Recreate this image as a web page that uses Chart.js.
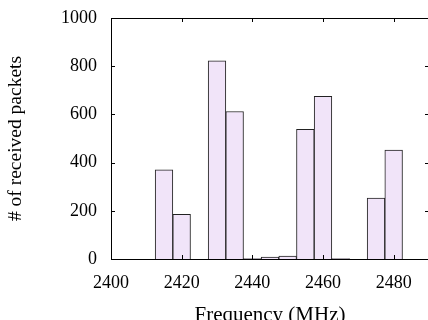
<!DOCTYPE html>
<html>
<head>
<meta charset="utf-8">
<script src="https://cdn.jsdelivr.net/npm/chart.js@4"></script>
<style>
  html, body { margin: 0; padding: 0; background: #fff; overflow: hidden; }
  #wrap { width: 432px; height: 328px; }
</style>
</head>
<body>
<div id="wrap"><canvas id="packetsChart"></canvas></div>
<script>
// Channel centre frequencies (MHz) and packets received on each
const frequencies = [2415, 2420, 2430, 2435, 2440, 2445, 2450, 2455, 2460, 2465, 2475, 2480];
const packets     = [370,  185,  822,  612,  2,    8,    12,   538,  675,  2,    253,  452];
const xTicks = [2400, 2420, 2440, 2460, 2480];
const yTicks = [0, 200, 400, 600, 800, 1000];

const fontFamily = "'Liberation Serif', 'DejaVu Serif', serif";

// Frame around the plot with inward tick marks on all four sides
const frameTicks = {
    id: 'frameTicks',
    afterDraw(chart) {
        const ctx = chart.ctx;
        const a = chart.chartArea;
        const x = chart.scales.x, y = chart.scales.y;
        const len = 4;
        ctx.save();
        ctx.strokeStyle = '#000';
        ctx.lineWidth = 1;
        ctx.strokeRect(a.left + 0.5, a.top + 0.5, a.right - a.left - 1, a.bottom - a.top);
        ctx.beginPath();
        xTicks.forEach(v => {
            const px = Math.round(x.getPixelForValue(v)) + 0.5;
            ctx.moveTo(px, a.bottom); ctx.lineTo(px, a.bottom - len);
            ctx.moveTo(px, a.top); ctx.lineTo(px, a.top + len);
        });
        yTicks.forEach(v => {
            const py = Math.round(y.getPixelForValue(v)) + 0.5;
            ctx.moveTo(a.left, py); ctx.lineTo(a.left + len, py);
            ctx.moveTo(a.right, py); ctx.lineTo(a.right - len, py);
        });
        ctx.stroke();
        ctx.restore();
    }
};

const ctx = document.getElementById('packetsChart').getContext('2d');
new Chart(ctx, {
    type: 'bar',
    data: {
        datasets: [{
            data: frequencies.map((f, i) => ({ x: f, y: packets[i] })),
            backgroundColor: 'rgb(241, 228, 249)',
            borderColor: '#222',
            borderWidth: 1,
            barPercentage: 1,
            categoryPercentage: 1
        }]
    },
    options: {
        responsive: true,
        maintainAspectRatio: false,
        animation: false,
        layout: { padding: { top: 18, right: 3, left: 0, bottom: 0 } },
        plugins: {
            legend: { display: false },
            tooltip: { enabled: false }
        },
        scales: {
            x: {
                type: 'linear',
                offset: false,
                min: 2400,
                max: 2490,
                afterBuildTicks: s => { s.ticks = xTicks.map(v => ({ value: v })); },
                afterFit: s => { s.height = 69; },
                grid: { display: false, drawTicks: false },
                border: { display: false },
                ticks: {
                    color: '#000',
                    padding: 13,
                    maxRotation: 0,
                    font: { family: fontFamily, size: 18 },
                    callback: v => String(v)
                },
                title: {
                    display: true,
                    text: 'Frequency (MHz)',
                    color: '#000',
                    padding: 0,
                    font: { family: fontFamily, size: 21 }
                }
            },
            y: {
                min: 0,
                max: 1000,
                afterBuildTicks: s => { s.ticks = yTicks.map(v => ({ value: v })); },
                afterFit: s => { s.width = 111; s.paddingTop = 0; },
                grid: { display: false, drawTicks: false },
                border: { display: false },
                ticks: {
                    color: '#000',
                    padding: 14,
                    font: { family: fontFamily, size: 18 },
                    callback: v => String(v)
                },
                title: {
                    display: true,
                    text: '# of received packets',
                    color: '#000',
                    padding: { top: 4, bottom: 0 },
                    font: { family: fontFamily, size: 19.5 }
                }
            }
        }
    },
    plugins: [frameTicks]
});
</script>
</body>
</html>
